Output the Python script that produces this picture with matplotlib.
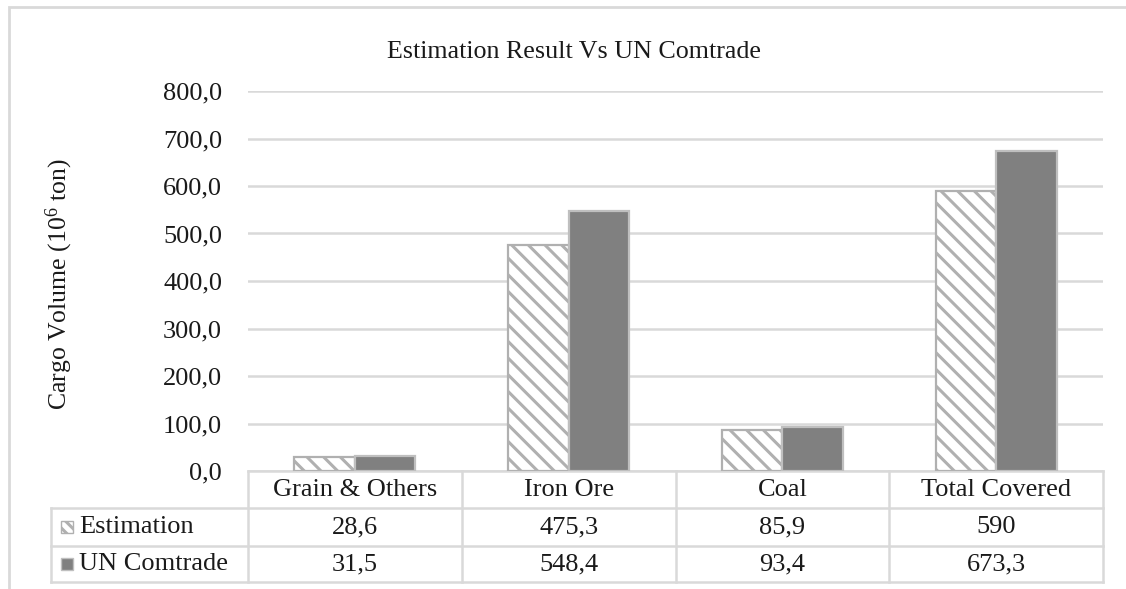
import matplotlib
matplotlib.use("Agg")
import matplotlib.pyplot as plt
from matplotlib.patches import Rectangle
import matplotlib.transforms as mtransforms

plt.rcParams['font.family'] = ['Liberation Serif', 'DejaVu Serif']
plt.rcParams['mathtext.fontset'] = 'custom'
plt.rcParams['mathtext.rm'] = 'Liberation Serif'
plt.rcParams['hatch.linewidth'] = 2.2

categories = ["Grain & Others", "Iron Ore", "Coal", "Total Covered"]
series_names = ["Estimation", "UN Comtrade"]
estimation = [28.6, 475.3, 85.9, 590]
un_comtrade = [31.5, 548.4, 93.4, 673.3]
est_labels = ["28,6", "475,3", "85,9", "590"]
un_labels = ["31,5", "548,4", "93,4", "673,3"]
yticks = [0, 100, 200, 300, 400, 500, 600, 700, 800]
title = "Estimation Result Vs UN Comtrade"
ylabel = r"Cargo Volume ($\mathregular{10^6}$ ton)"

W, H = 1126, 589
fig = plt.figure(figsize=(W / 100, H / 100), dpi=100)
ax = fig.add_axes([248 / W, 1 - 471 / H, (1103 - 248) / W, (471 - 91) / H])

grid_c = '#d9d9d9'
edge_c = '#bfbfbf'
text_c = '#1a1a1a'
fs = 19

x = list(range(len(categories)))
bw = 0.283
ax.bar([i - bw / 2 for i in x], estimation, bw, color='white', edgecolor='#b0b0b0',
       hatch='\\\\', linewidth=1.6, zorder=3)
ax.bar([i + bw / 2 for i in x], un_comtrade, bw, color='#808080', edgecolor=edge_c,
       linewidth=1.6, zorder=3)

ax.set_xlim(-0.5, len(categories) - 0.5)
ax.set_ylim(0, 800)
ax.set_yticks(yticks)
ax.set_yticklabels([f"{v:.1f}".replace('.', ',') for v in yticks], fontsize=fs, color=text_c)
ax.tick_params(axis='y', length=0, pad=18.7)
ax.set_xticks([])
for s in ax.spines.values():
    s.set_visible(False)
ax.yaxis.grid(True, color=grid_c, linewidth=1.8, zorder=0)
ax.set_axisbelow(True)

# data table
trans = mtransforms.blended_transform_factory(ax.transData, ax.transAxes)
ah = 471 - 91
y_top = 0.0
y_r1 = -(508 - 471) / ah
y_r2 = -(546 - 471) / ah
y_bot = -(582 - 471) / ah
left_x = -0.5 - (248 - 51) / ((1103 - 248) / len(categories))
right_x = len(categories) - 0.5
lkw = dict(color=grid_c, linewidth=1.8, clip_on=False, transform=trans, zorder=1)
ax.plot([-0.5, right_x], [y_top, y_top], **lkw)
for yy in (y_r1, y_r2, y_bot):
    ax.plot([left_x, right_x], [yy, yy], **lkw)
ax.plot([left_x, left_x], [y_r1, y_bot], **lkw)
for b in range(len(categories) + 1):
    ax.plot([b - 0.5, b - 0.5], [y_top, y_bot], **lkw)

yc_h = (y_top + y_r1) / 2
yc_1 = (y_r1 + y_r2) / 2
yc_2 = (y_r2 + y_bot) / 2
for i, c in enumerate(categories):
    ax.text(i, yc_h, c, ha='center', va='center', fontsize=fs, color=text_c, transform=trans)
    ax.text(i, yc_1, est_labels[i], ha='center', va='center', fontsize=fs, color=text_c, transform=trans)
    ax.text(i, yc_2, un_labels[i], ha='center', va='center', fontsize=fs, color=text_c, transform=trans)

# row labels with legend keys (figure pixel coords)
def fx(px):
    return px / W
def fy(py):
    return 1 - py / H
for name, yy, style in ((series_names[0], (508 + 546) / 2, 'hatch'), (series_names[1], (546 + 582) / 2, 'solid')):
    if style == 'hatch':
        r = Rectangle((fx(61), fy(yy + 6)), 12 / W, 12 / H, transform=fig.transFigure,
                      facecolor='white', edgecolor='#b0b0b0', hatch='\\\\\\', linewidth=1.0)
    else:
        r = Rectangle((fx(61), fy(yy + 6)), 12 / W, 12 / H, transform=fig.transFigure,
                      facecolor='#808080', edgecolor=edge_c, linewidth=1.0)
    fig.add_artist(r)
    fig.text(fx(79), fy(yy), name, ha='left', va='center', fontsize=fs, color=text_c)

fig.text(fx(574), fy(52), title, ha='center', va='center', fontsize=18.7, color=text_c)
fig.text(fx(59), fy(284), ylabel, ha='center', va='center', rotation=90, fontsize=18.5, color=text_c)

# outer frame (cropped at right and bottom)
fig.add_artist(Rectangle((fx(9), -0.1), 1.2, fy(7) + 0.1, transform=fig.transFigure,
                         facecolor='none', edgecolor=grid_c, linewidth=2))

fig.savefig('out.png', dpi=100)
